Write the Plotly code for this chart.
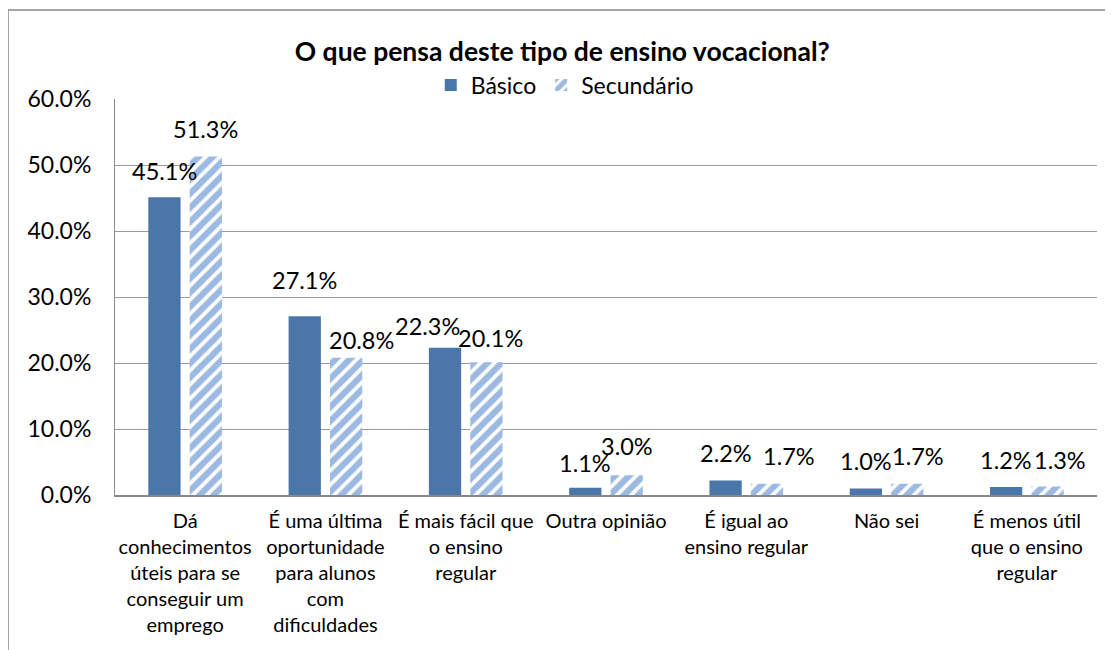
import plotly.graph_objects as go

categories = [
    "Dá<br>conhecimentos<br>úteis para se<br>conseguir um<br>emprego",
    "É uma última<br>oportunidade<br>para alunos<br>com<br>dificuldades",
    "É mais fácil que<br>o ensino<br>regular",
    "Outra opinião",
    "É igual ao<br>ensino regular",
    "Não sei",
    "É menos útil<br>que o ensino<br>regular",
]
basico = [45.1, 27.1, 22.3, 1.1, 2.2, 1.0, 1.2]
secundario = [51.3, 20.8, 20.1, 3.0, 1.7, 1.7, 1.3]
y_ticks = [0, 10, 20, 30, 40, 50, 60]

# small label nudges (pixels), mimicking the spreadsheet's collision avoidance
basico_dx = [0, 0, -18, 0, 0, 0, 0]
basico_dy = [26, 36, 22, 25, 27, 27, 27]
secundario_dx = [0, 15, 4, 0, 22, 11, 12]
secundario_dy = [27, 18, 24, 29, 28, 28, 26]

FONT = "Lato, 'Open Sans', sans-serif"

fig = go.Figure()
fig.add_trace(go.Bar(
    x=categories, y=basico, name="Básico", offsetgroup="b",
    marker=dict(color="#4A76AA", line=dict(width=0)),
))
fig.add_trace(go.Bar(
    x=categories, y=secundario, name="Secundário", offsetgroup="s",
    marker=dict(color="white", line=dict(width=0),
                pattern=dict(shape="/", fgcolor="#3A75C4", bgcolor="white",
                             size=10, solidity=0.62)),
))

fig.update_layout(
    width=1113, height=650,
    margin=dict(l=107, r=24, t=91, b=163),
    paper_bgcolor="white", plot_bgcolor="white",
    font=dict(family=FONT, color="#000"),
    title=dict(text="<b>O que pensa deste tipo de ensino vocacional?</b>",
               x=0.498, xanchor="center", y=0.932, yanchor="middle",
               font=dict(size=26.5, family=FONT)),
    barmode="group", bargap=0.41, bargroupgap=0.22,
    legend=dict(orientation="h", x=0.458, xanchor="center", y=1.035, yanchor="middle",
                font=dict(size=23, family=FONT), bgcolor="rgba(0,0,0,0)",
                itemwidth=30, traceorder="normal"),
    xaxis=dict(showgrid=False, showline=True, linecolor="#888", linewidth=2,
               tickfont=dict(size=20, family=FONT), ticks="", ticklen=0,
               ticklabelstandoff=7),
    yaxis=dict(range=[0, 60], tickvals=y_ticks,
               ticktext=[f"{v:.1f}%" for v in y_ticks],
               showgrid=True, gridcolor="#999", gridwidth=1,
               showline=True, linecolor="#888", linewidth=1,
               ticklabelstandoff=18,
               tickfont=dict(size=23, family=FONT), ticks="", zeroline=False),
)

# data labels: placed at each bar's value, offset to the bar centre
slot_px = 982 / len(categories) * (1 - 0.41) / 2
for vals, dxs, dys, side in ((basico, basico_dx, basico_dy, -1),
                             (secundario, secundario_dx, secundario_dy, 1)):
    for i, (c, v) in enumerate(zip(categories, vals)):
        fig.add_annotation(x=c, y=v, xref="x", yref="y", text=f"{v:.1f}%",
                           showarrow=False, xanchor="center", yanchor="middle",
                           xshift=side * slot_px / 2 + dxs[i], yshift=dys[i],
                           font=dict(size=23.5, family=FONT, color="#000"))

fig.add_shape(type="rect", xref="paper", yref="paper",
              x0=(0 - 107) / 982, x1=1.2, y0=-1.0, y1=1 + (91 - 2) / 396,
              line=dict(color="#888", width=1.5), fillcolor="rgba(0,0,0,0)", layer="below")

fig.write_html("out.html")
